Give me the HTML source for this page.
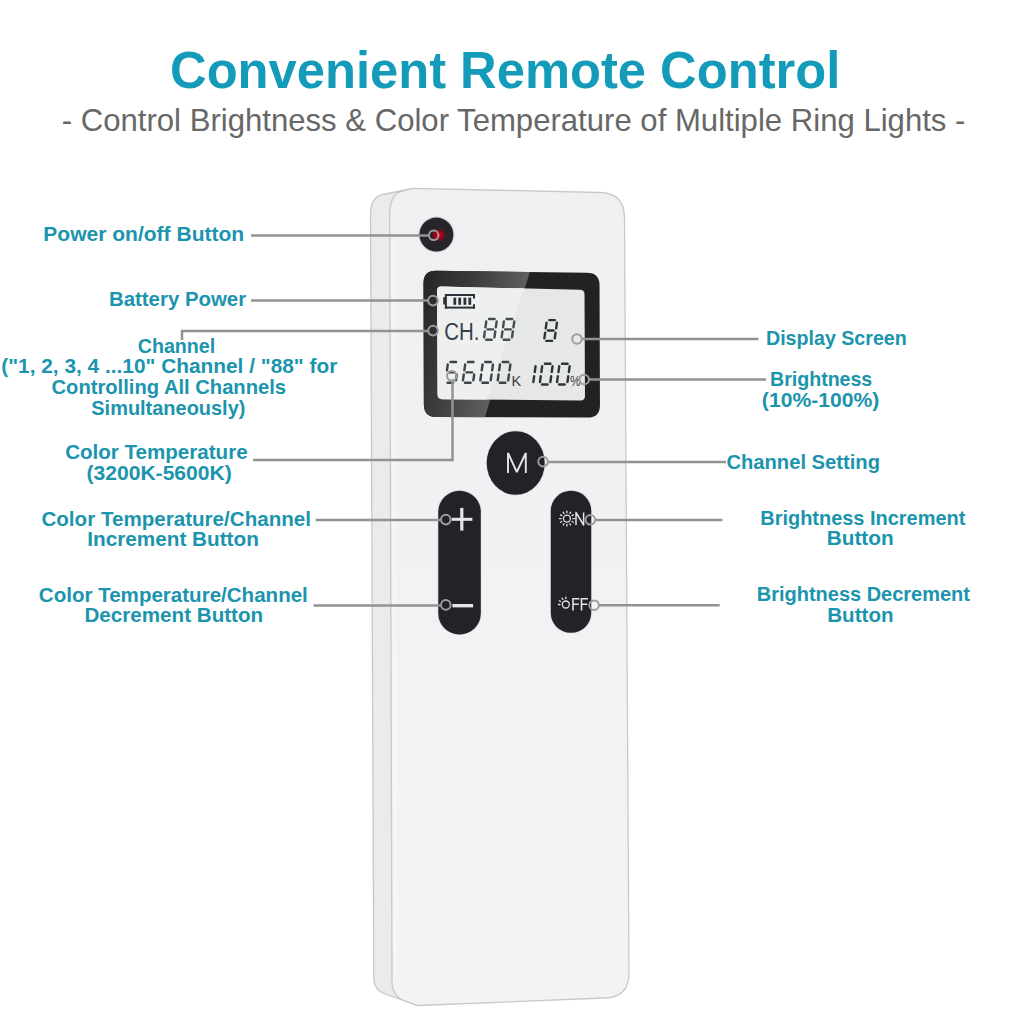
<!DOCTYPE html>
<html><head><meta charset="utf-8"><style>
html,body{margin:0;padding:0;background:#fff;}
body{width:1024px;height:1024px;overflow:hidden;}
svg{display:block;font-family:"Liberation Sans",sans-serif;}
</style></head><body>
<svg width="1024" height="1024" viewBox="0 0 1024 1024">
<rect width="1024" height="1024" fill="#ffffff"/>
<text transform="translate(170.02,88.30) scale(0.9904,1)" font-size="51.20" font-weight="700" fill="#149bb9">Convenient Remote Control</text><text transform="translate(61.73,131.00) scale(1.0184,1)" font-size="30.55" font-weight="400" fill="#676767">- Control Brightness &amp; Color Temperature of Multiple Ring Lights -</text><text transform="translate(43.29,240.80) scale(1.0485,1)" font-size="20.07" font-weight="700" fill="#1b94ad">Power on/off Button</text><text transform="translate(108.93,306.40) scale(1.0173,1)" font-size="20.07" font-weight="700" fill="#1b94ad">Battery Power</text><text transform="translate(137.77,353.00) scale(0.9785,1)" font-size="20.07" font-weight="700" fill="#1b94ad">Channel</text><text transform="translate(1.26,373.40) scale(1.0388,1)" font-size="20.07" font-weight="700" fill="#1b94ad">(&quot;1, 2, 3, 4 ...10&quot; Channel / &quot;88&quot; for</text><text transform="translate(51.55,394.00) scale(1.0052,1)" font-size="20.07" font-weight="700" fill="#1b94ad">Controlling All Channels</text><text transform="translate(91.30,414.50) scale(0.9948,1)" font-size="20.07" font-weight="700" fill="#1b94ad">Simultaneously)</text><text transform="translate(65.13,459.30) scale(1.0256,1)" font-size="20.07" font-weight="700" fill="#1b94ad">Color Temperature</text><text transform="translate(86.45,479.70) scale(1.0515,1)" font-size="20.07" font-weight="700" fill="#1b94ad">(3200K-5600K)</text><text transform="translate(41.43,525.80) scale(1.0258,1)" font-size="20.07" font-weight="700" fill="#1b94ad">Color Temperature/Channel</text><text transform="translate(87.31,546.00) scale(1.0331,1)" font-size="20.07" font-weight="700" fill="#1b94ad">Increment Button</text><text transform="translate(38.83,601.80) scale(1.0246,1)" font-size="20.07" font-weight="700" fill="#1b94ad">Color Temperature/Channel</text><text transform="translate(84.41,621.90) scale(1.0281,1)" font-size="20.07" font-weight="700" fill="#1b94ad">Decrement Button</text><text transform="translate(765.98,345.10) scale(0.9787,1)" font-size="20.07" font-weight="700" fill="#1b94ad">Display Screen</text><text transform="translate(770.08,385.90) scale(0.9751,1)" font-size="20.07" font-weight="700" fill="#1b94ad">Brightness</text><text transform="translate(761.85,406.70) scale(1.0535,1)" font-size="20.07" font-weight="700" fill="#1b94ad">(10%-100%)</text><text transform="translate(726.45,468.50) scale(1.0057,1)" font-size="20.07" font-weight="700" fill="#1b94ad">Channel Setting</text><text transform="translate(760.26,525.30) scale(0.9949,1)" font-size="20.07" font-weight="700" fill="#1b94ad">Brightness Increment</text><text transform="translate(826.71,545.30) scale(1.0355,1)" font-size="20.07" font-weight="700" fill="#1b94ad">Button</text><text transform="translate(756.75,600.90) scale(0.9967,1)" font-size="20.07" font-weight="700" fill="#1b94ad">Brightness Decrement</text><text transform="translate(827.22,622.00) scale(1.0274,1)" font-size="20.07" font-weight="700" fill="#1b94ad">Button</text>

<defs>
  <linearGradient id="bez" gradientUnits="userSpaceOnUse" x1="417.9" y1="315.8" x2="508.6" y2="344">
    <stop offset="0" stop-color="#282828"/>
    <stop offset="0.5" stop-color="#3e3e3e"/>
    <stop offset="1" stop-color="#606060"/>
  </linearGradient>
  <linearGradient id="face" x1="0" y1="0" x2="0" y2="1">
    <stop offset="0" stop-color="#f0f0f2"/>
    <stop offset="1" stop-color="#f3f3f5"/>
  </linearGradient>
  <radialGradient id="led" cx="0.5" cy="0.5" r="0.5">
    <stop offset="0" stop-color="#c8001c"/>
    <stop offset="0.55" stop-color="#a00018"/>
    <stop offset="1" stop-color="#26262c"/>
  </radialGradient>
</defs>
<!-- side face -->
<path d="M370.5,214 Q370.5,195.5 385.5,194 L413,188.3 L418,1005.5 L385,994 Q374.3,990 373.8,979 Z" fill="#ebebed" stroke="#c8c8ca" stroke-width="1.3"/>
<!-- front face -->
<path d="M389.6,216 Q389.6,194 402,191 L413,188.3 L600,192.5 Q624.5,193 624.5,218 L629,973 Q629,998 604,998 L418,1005.5 L404,1000.6 Q392,996 392,981 Z" fill="url(#face)" stroke="#c9c9cb" stroke-width="1.3"/>
<path d="M393.5,240 L395.5,975" stroke="#f7f7f9" stroke-width="4" opacity="0.8"/>
<!-- power button -->
<circle cx="436.4" cy="234.6" r="18.2" fill="#dcdcde"/>
<circle cx="436.4" cy="234.6" r="17" fill="#25252b"/>
<ellipse cx="438.6" cy="235" rx="7.5" ry="6.8" fill="url(#led)"/>
<!-- LCD bezel -->
<path d="M423.53,283.00Q423.50,270.50 436.00,270.68L587.00,272.82Q599.50,273.00 599.54,285.50L599.96,405.10Q600.00,417.60 587.50,417.56L436.40,417.04Q423.90,417.00 423.87,404.50Z" fill="#222222"/>
<clipPath id="bcl"><path d="M423.53,283.00Q423.50,270.50 436.00,270.68L587.00,272.82Q599.50,273.00 599.54,285.50L599.96,405.10Q600.00,417.60 587.50,417.56L436.40,417.04Q423.90,417.00 423.87,404.50Z"/></clipPath><path clip-path="url(#bcl)" d="M415,265 L532,265 L484,420 L415,420Z" fill="url(#bez)"/>
<path d="M437.02,291.00Q437.00,286.50 441.50,286.60L580.00,289.70Q584.50,289.80 584.52,294.30L584.98,396.00Q585.00,400.50 580.50,400.46L442.10,399.14Q437.60,399.10 437.58,394.60Z" fill="#e5e8e5"/>
<clipPath id="scl"><path d="M437.02,291.00Q437.00,286.50 441.50,286.60L580.00,289.70Q584.50,289.80 584.52,294.30L584.98,396.00Q585.00,400.50 580.50,400.46L442.10,399.14Q437.60,399.10 437.58,394.60Z"/></clipPath><path clip-path="url(#scl)" d="M430,280 L527,280 L485,405 L430,405Z" fill="#eef0ef"/>
<!-- battery -->
<g fill="#2d3139">
 <rect x="443.2" y="297.2" width="2" height="7.3"/>
 <rect x="444.9" y="294" width="30" height="2"/>
 <rect x="444.9" y="306.6" width="30" height="2"/>
 <rect x="444.9" y="294" width="2" height="14.6"/>
 <rect x="473" y="294" width="2" height="4.5"/>
 <rect x="473" y="304.3" width="2" height="4.3"/>
 <rect x="453.4" y="297.6" width="2.8" height="7.2"/>
 <rect x="458.3" y="297.6" width="2.8" height="7.2"/>
 <rect x="463.5" y="297.6" width="2.8" height="7.2"/>
 <rect x="468.4" y="297.6" width="2.8" height="7.2"/>
</g>
<path d="M489.01,319.00L494.61,319.00M496.66,321.50L495.85,327.30M495.26,331.50L494.45,337.30M486.10,339.80L491.70,339.80M484.86,331.50L484.05,337.30M486.26,321.50L485.45,327.30M487.56,329.40L493.16,329.40" stroke="#474b52" stroke-width="2.4" stroke-linecap="round" fill="none"/><path d="M506.61,319.00L512.21,319.00M514.26,321.50L513.45,327.30M512.86,331.50L512.05,337.30M503.70,339.80L509.30,339.80M502.46,331.50L501.65,337.30M503.86,321.50L503.05,327.30M505.16,329.40L510.76,329.40" stroke="#474b52" stroke-width="2.4" stroke-linecap="round" fill="none"/><path d="M549.31,320.10L554.91,320.10M556.96,322.60L556.15,328.40M555.56,332.60L554.75,338.40M546.40,340.90L552.00,340.90M545.16,332.60L544.35,338.40M546.56,322.60L545.75,328.40M547.86,330.50L553.46,330.50" stroke="#2c3038" stroke-width="2.4" stroke-linecap="round" fill="none"/><path d="M450.51,362.00L456.11,362.00M447.76,364.50L446.95,370.30M449.06,372.40L454.66,372.40M456.76,374.50L455.95,380.30M447.60,382.80L453.20,382.80" stroke="#3e424a" stroke-width="2.4" stroke-linecap="round" fill="none"/><path d="M467.91,362.00L473.51,362.00M465.16,364.50L464.35,370.30M466.46,372.40L472.06,372.40M463.76,374.50L462.95,380.30M465.00,382.80L470.60,382.80M474.16,374.50L473.35,380.30" stroke="#3e424a" stroke-width="2.4" stroke-linecap="round" fill="none"/><path d="M485.31,362.00L490.91,362.00M492.96,364.50L492.15,370.30M491.56,374.50L490.75,380.30M482.40,382.80L488.00,382.80M481.16,374.50L480.35,380.30M482.56,364.50L481.75,370.30" stroke="#3e424a" stroke-width="2.4" stroke-linecap="round" fill="none"/><path d="M502.71,362.00L508.31,362.00M510.36,364.50L509.55,370.30M508.96,374.50L508.15,380.30M499.80,382.80L505.40,382.80M498.56,374.50L497.75,380.30M499.96,364.50L499.15,370.30" stroke="#3e424a" stroke-width="2.4" stroke-linecap="round" fill="none"/><path d="M535.56,366.20L534.75,372.00M534.16,376.20L533.35,382.00" stroke="#30343c" stroke-width="2.4" stroke-linecap="round" fill="none"/><path d="M544.91,363.70L550.51,363.70M552.56,366.20L551.75,372.00M551.16,376.20L550.35,382.00M542.00,384.50L547.60,384.50M540.76,376.20L539.95,382.00M542.16,366.20L541.35,372.00" stroke="#30343c" stroke-width="2.4" stroke-linecap="round" fill="none"/><path d="M562.01,363.70L567.61,363.70M569.66,366.20L568.85,372.00M568.26,376.20L567.45,382.00M559.10,384.50L564.70,384.50M557.86,376.20L557.05,382.00M559.26,366.20L558.45,372.00" stroke="#30343c" stroke-width="2.4" stroke-linecap="round" fill="none"/>

<text transform="translate(444.24,340.20) scale(0.8474,1)" font-size="24.15" font-weight="400" fill="#3a3e47">CH.</text><text transform="translate(511.52,385.50) scale(1.0250,1)" font-size="14.25" font-weight="400" fill="#3a3e47">K</text><text transform="translate(569.99,386.20) scale(0.8167,1)" font-size="14.55" font-weight="400" fill="#3a3e47">%</text>

<!-- M button -->
<ellipse cx="515.7" cy="463" rx="29.8" ry="32.5" fill="#dedee0"/>
<ellipse cx="515.7" cy="463" rx="29" ry="31.8" fill="#222228"/>
<path d="M508,473 L508,453 L516.8,472 L525.8,453 L525.8,473" fill="none" stroke="#e6e6e6" stroke-width="1.9" stroke-linejoin="bevel"/>
<!-- +/- pill -->
<rect x="437.5" y="490" width="44" height="145" rx="21.5" fill="#dedee0"/>
<rect x="438.3" y="490.8" width="42.5" height="143.6" rx="21" fill="#222228"/>
<rect x="451.6" y="517.8" width="20.8" height="3" fill="#e6e6e6"/>
<rect x="460.2" y="507.9" width="3.2" height="22.7" fill="#e6e6e6"/>
<rect x="452.4" y="604" width="20.7" height="3.4" fill="#e6e6e6"/>
<!-- ON/OFF pill -->
<rect x="550" y="490" width="42" height="143.5" rx="20.5" fill="#dedee0"/>
<rect x="550.8" y="490.8" width="40.4" height="142" rx="20" fill="#222228"/>
<circle cx="566.9" cy="518.6" r="3.5" fill="none" stroke="#e4e4e4" stroke-width="1.3"/><path d="M572.80,518.60L574.30,518.60" stroke="#e4e4e4" stroke-width="1.3" stroke-linecap="round"/><path d="M572.01,515.65L573.31,514.90" stroke="#e4e4e4" stroke-width="1.3" stroke-linecap="round"/><path d="M569.85,513.49L570.60,512.19" stroke="#e4e4e4" stroke-width="1.3" stroke-linecap="round"/><path d="M566.90,512.70L566.90,511.20" stroke="#e4e4e4" stroke-width="1.3" stroke-linecap="round"/><path d="M563.95,513.49L563.20,512.19" stroke="#e4e4e4" stroke-width="1.3" stroke-linecap="round"/><path d="M561.79,515.65L560.49,514.90" stroke="#e4e4e4" stroke-width="1.3" stroke-linecap="round"/><path d="M561.00,518.60L559.50,518.60" stroke="#e4e4e4" stroke-width="1.3" stroke-linecap="round"/><path d="M561.79,521.55L560.49,522.30" stroke="#e4e4e4" stroke-width="1.3" stroke-linecap="round"/><path d="M563.95,523.71L563.20,525.01" stroke="#e4e4e4" stroke-width="1.3" stroke-linecap="round"/><path d="M566.90,524.50L566.90,526.00" stroke="#e4e4e4" stroke-width="1.3" stroke-linecap="round"/><path d="M569.85,523.71L570.60,525.01" stroke="#e4e4e4" stroke-width="1.3" stroke-linecap="round"/><path d="M572.01,521.55L573.31,522.30" stroke="#e4e4e4" stroke-width="1.3" stroke-linecap="round"/><circle cx="565.8" cy="604.5" r="3.5" fill="none" stroke="#e4e4e4" stroke-width="1.3"/><path d="M565.80,598.60L565.80,597.10" stroke="#e4e4e4" stroke-width="1.3" stroke-linecap="round"/><path d="M562.85,599.39L562.10,598.09" stroke="#e4e4e4" stroke-width="1.3" stroke-linecap="round"/><path d="M560.69,601.55L559.39,600.80" stroke="#e4e4e4" stroke-width="1.3" stroke-linecap="round"/><path d="M559.90,604.50L558.40,604.50" stroke="#e4e4e4" stroke-width="1.3" stroke-linecap="round"/><path d="M576,525 L576,512.5 L583.6,525 L583.6,512.5" fill="none" stroke="#e4e4e4" stroke-width="1.5" stroke-linejoin="round"/><path d="M573,610.4 L573,598.8 L579.5,598.8 M573,604.2 L578.8,604.2 M581.5,610.4 L581.5,598.8 L588,598.8 M581.5,604.2 L587.3,604.2" fill="none" stroke="#e4e4e4" stroke-width="1.6"/>

<g stroke="#929292" stroke-width="2.5" fill="none">
 <path d="M251,235.5 L428.5,235.5"/>
 <path d="M251,300.5 L428,300.5"/>
 <path d="M182,340 L182,331 L428,331"/>
 <path d="M253,460 L452.5,460 L452.5,381"/>
 <path d="M315.7,520 L440.5,520"/>
 <path d="M313.6,605.4 L440.5,605.4"/>
 <path d="M582.5,339 L758.5,339"/>
 <path d="M589,379.5 L766,379.5"/>
 <path d="M548,462 L726,462"/>
 <path d="M595,520 L722.4,520"/>
 <path d="M598.8,605.2 L719.7,605.2"/>
</g>
<g stroke="#9c9c9e" stroke-width="2" fill="none">
 <circle cx="433.7" cy="235.3" r="4.8"/>
 <circle cx="433" cy="300.6" r="4.8"/>
 <circle cx="433" cy="330.6" r="4.8"/>
 <circle cx="451.8" cy="375.8" r="4.8"/>
 <circle cx="577" cy="339" r="4.8"/>
 <circle cx="584.2" cy="379.5" r="4.8"/>
 <circle cx="543.1" cy="461.6" r="4.8"/>
 <circle cx="445.8" cy="519.6" r="4.8"/>
 <circle cx="445.8" cy="604.9" r="4.8"/>
 <circle cx="590.4" cy="519.8" r="4.8"/>
 <circle cx="594.1" cy="605.2" r="4.8"/>
</g>

</svg>
</body></html>
